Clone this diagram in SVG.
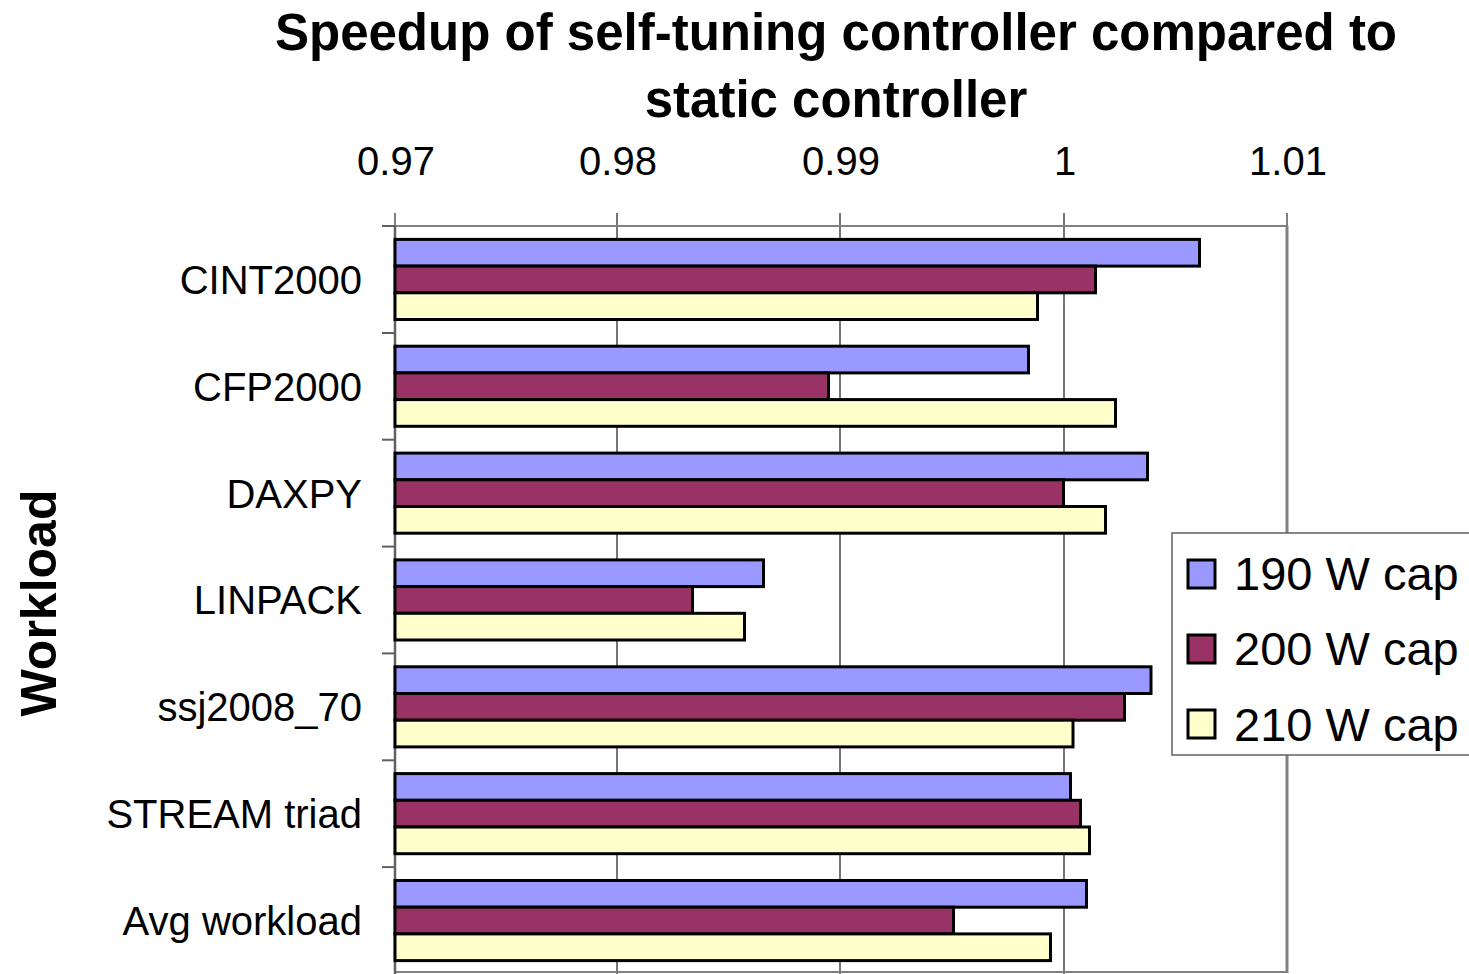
<svg xmlns="http://www.w3.org/2000/svg" width="1469" height="974" viewBox="0 0 1469 974">
<style>
text{font-family:"Liberation Sans",Arial,sans-serif;fill:#000}
.title{font-size:51px;font-weight:bold;text-anchor:middle}
.tick{font-size:40px;text-anchor:middle}
.cat{font-size:40px;text-anchor:end}
.leg{font-size:47px}
.b1{fill:#9999FF;stroke:#000;stroke-width:3}
.b2{fill:#993366;stroke:#000;stroke-width:3}
.b3{fill:#FFFFCC;stroke:#000;stroke-width:3}
.grid{stroke:#1a1a1a;stroke-width:1.2}
.axis{stroke:#808080;stroke-width:2}
</style>
<rect width="1469" height="974" fill="#fff"/>
<g id="title">
<text class="title" x="836" y="50">Speedup of self-tuning controller compared to</text>
<text class="title" x="836" y="117">static controller</text>
</g>
<g id="x-axis-labels">
<text class="tick" x="396" y="175">0.97</text>
<text class="tick" x="618" y="175">0.98</text>
<text class="tick" x="841" y="175">0.99</text>
<text class="tick" x="1065" y="175">1</text>
<text class="tick" x="1288" y="175">1.01</text>
</g>
<g id="plot-frame">
<line class="grid" x1="617" y1="213" x2="617" y2="974"/>
<line class="grid" x1="840" y1="213" x2="840" y2="974"/>
<line class="grid" x1="1064" y1="213" x2="1064" y2="974"/>
<line class="axis" x1="395" y1="226" x2="1287" y2="226"/>
<line class="axis" x1="395" y1="213" x2="395" y2="226"/>
<line class="axis" x1="1287" y1="213" x2="1287" y2="226"/>
<line stroke="#808080" stroke-width="3" x1="1287" y1="226" x2="1287" y2="973"/>
<line stroke="#808080" stroke-width="2" x1="395" y1="972" x2="1287" y2="972"/>
<line stroke="#606060" stroke-width="2.5" x1="395" y1="226" x2="395" y2="974"/>
<g stroke="#606060" stroke-width="2">
<line x1="382" y1="226" x2="395" y2="226"/>
<line x1="382" y1="333" x2="395" y2="333"/>
<line x1="382" y1="439.7" x2="395" y2="439.7"/>
<line x1="382" y1="546.6" x2="395" y2="546.6"/>
<line x1="382" y1="653.4" x2="395" y2="653.4"/>
<line x1="382" y1="760.3" x2="395" y2="760.3"/>
<line x1="382" y1="867.1" x2="395" y2="867.1"/>
</g>
</g>
<g id="y-axis-labels">
<text class="cat" x="362" y="294">CINT2000</text>
<text class="cat" x="362" y="401">CFP2000</text>
<text class="cat" x="362" y="508">DAXPY</text>
<text class="cat" x="362" y="614">LINPACK</text>
<text class="cat" x="362" y="721">ssj2008_70</text>
<text class="cat" x="362" y="828">STREAM triad</text>
<text class="cat" x="362" y="935">Avg workload</text>
<text font-size="50" font-weight="bold" text-anchor="middle" x="56" y="603" transform="rotate(-90 56 603)">Workload</text>
</g>
<g id="bars">
<g id="cint2000">
<rect class="b1" x="395" y="239.4" width="804.5" height="26.7"/>
<rect class="b2" x="395" y="266.1" width="700.5" height="26.7"/>
<rect class="b3" x="395" y="292.8" width="642.5" height="26.7"/>
</g>
<g id="cfp2000">
<rect class="b1" x="395" y="346.2" width="633.5" height="26.7"/>
<rect class="b2" x="395" y="372.9" width="433.5" height="26.7"/>
<rect class="b3" x="395" y="399.6" width="720.5" height="26.7"/>
</g>
<g id="daxpy">
<rect class="b1" x="395" y="453.1" width="752.5" height="26.7"/>
<rect class="b2" x="395" y="479.8" width="668.5" height="26.7"/>
<rect class="b3" x="395" y="506.5" width="710.5" height="26.7"/>
</g>
<g id="linpack">
<rect class="b1" x="395" y="559.9" width="368.5" height="26.7"/>
<rect class="b2" x="395" y="586.6" width="297.5" height="26.7"/>
<rect class="b3" x="395" y="613.3" width="349.5" height="26.7"/>
</g>
<g id="ssj2008_70">
<rect class="b1" x="395" y="666.8" width="756" height="26.7"/>
<rect class="b2" x="395" y="693.5" width="729.5" height="26.7"/>
<rect class="b3" x="395" y="720.2" width="678" height="26.7"/>
</g>
<g id="stream-triad">
<rect class="b1" x="395" y="773.6" width="675.5" height="26.7"/>
<rect class="b2" x="395" y="800.3" width="685.5" height="26.7"/>
<rect class="b3" x="395" y="827" width="694.5" height="26.7"/>
</g>
<g id="avg-workload">
<rect class="b1" x="395" y="880.5" width="691.5" height="26.7"/>
<rect class="b2" x="395" y="907.2" width="558.5" height="26.7"/>
<rect class="b3" x="395" y="933.9" width="655.5" height="26.7"/>
</g>
</g>
<g id="legend">
<rect x="1172" y="533" width="310" height="222" fill="#fff" stroke="#606060" stroke-width="1.5"/>
<rect class="b1" x="1188" y="560" width="27" height="28" stroke-width="2.5"/>
<rect class="b2" x="1188" y="635" width="27" height="28" stroke-width="2.5"/>
<rect class="b3" x="1188" y="710" width="27" height="28" stroke-width="2.5"/>
<text class="leg" x="1234" y="590">190 W cap</text>
<text class="leg" x="1234" y="665">200 W cap</text>
<text class="leg" x="1234" y="741">210 W cap</text>
</g>
</svg>
